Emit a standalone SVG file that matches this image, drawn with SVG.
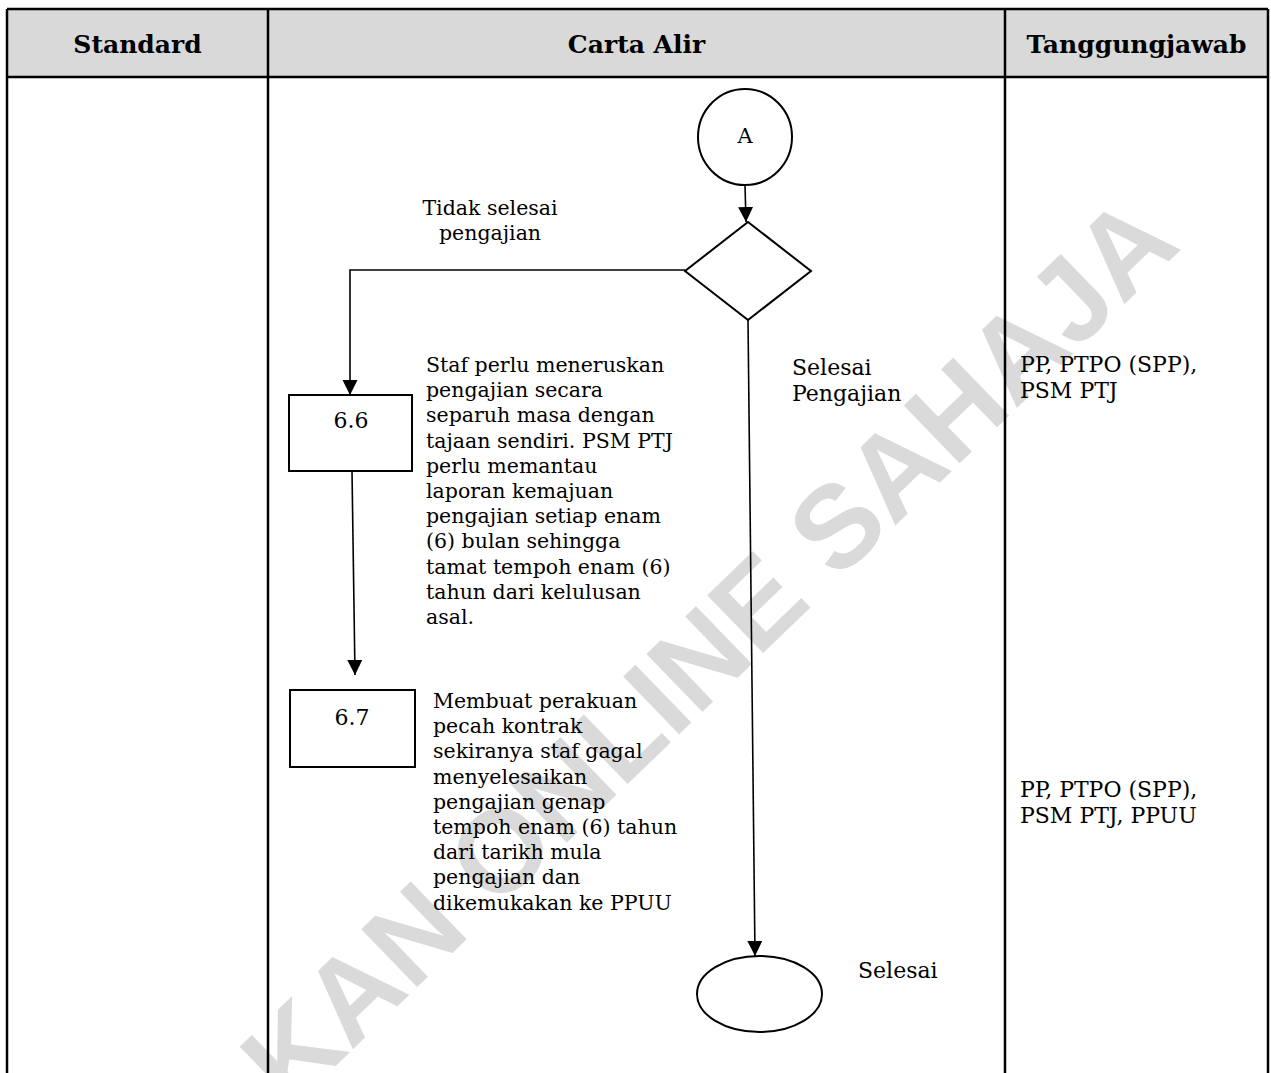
<svg xmlns="http://www.w3.org/2000/svg" width="1271" height="1073" viewBox="0 0 1271 1073">
  <defs>
    <marker id="arrow" markerUnits="userSpaceOnUse" markerWidth="16" markerHeight="16" refX="15" refY="7.5" orient="auto">
      <path d="M0,0 L15,7.5 L0,15 Z" fill="#000"/>
    </marker>
    <style>
      .tbl { stroke: #000; stroke-width: 2.5; fill: none; }
      .hdr { font-family: "DejaVu Serif", "Liberation Serif", serif; font-weight: bold; font-size: 25px; fill: #000; text-anchor: middle; }
      .shape { stroke: #000; stroke-width: 2; fill: #fff; }
      .conn { stroke: #000; stroke-width: 1.6; fill: none; }
      .t { font-family: "DejaVu Serif", "Liberation Serif", serif; font-size: 20.5px; fill: #000; }
      .t2 { font-family: "DejaVu Serif", "Liberation Serif", serif; font-size: 22px; fill: #000; }
      .num { font-family: "DejaVu Serif", "Liberation Serif", serif; font-size: 22px; fill: #000; text-anchor: middle; }
      .wm { font-family: "Liberation Sans", Arial, sans-serif; font-weight: bold; font-size: 117px; fill: #dadada; }
    </style>
  </defs>

  <rect x="0" y="0" width="1271" height="1073" fill="#fff"/>

  <!-- watermark -->
  <text class="wm" transform="translate(290,1110) rotate(-44)">KAN ONLINE SAHAJA</text>

  <!-- table -->
  <g id="table">
    <rect x="7" y="9" width="1261" height="68" fill="#d9d9d9"/>
    <line class="tbl" x1="7" y1="9" x2="1268" y2="9"/>
    <line class="tbl" x1="7" y1="77" x2="1268" y2="77"/>
    <line class="tbl" x1="7" y1="9" x2="7" y2="1073"/>
    <line class="tbl" x1="268" y1="9" x2="268" y2="1073"/>
    <line class="tbl" x1="1005" y1="9" x2="1005" y2="1073"/>
    <line class="tbl" x1="1268" y1="9" x2="1268" y2="1073"/>
    <text class="hdr" x="137.5" y="53">Standard</text>
    <text class="hdr" x="636.5" y="53">Carta Alir</text>
    <text class="hdr" x="1136.5" y="53">Tanggungjawab</text>
  </g>

  <!-- connectors -->
  <g id="connectors">
    <line class="conn" x1="745" y1="185" x2="746" y2="222" marker-end="url(#arrow)"/>
    <polyline class="conn" points="685,270 350,270 350,395" marker-end="url(#arrow)"/>
    <line class="conn" x1="352" y1="471" x2="355" y2="675" marker-end="url(#arrow)"/>
    <line class="conn" x1="748" y1="320" x2="755" y2="956" marker-end="url(#arrow)"/>
  </g>

  <g id="node-A">
    <ellipse class="shape" cx="745" cy="137" rx="47" ry="48"/>
    <text class="num" x="745" y="143" style="font-size:21px">A</text>
  </g>

  <g id="decision">
    <polygon class="shape" points="748,222 811,271 748,320 685,271"/>
  </g>

  <g id="label-tidak">
    <text class="t" x="490" y="215" text-anchor="middle">Tidak selesai</text>
    <text class="t" x="490" y="240" text-anchor="middle">pengajian</text>
  </g>

  <g id="label-selesai-pengajian">
    <text class="t2" x="792" y="375">Selesai</text>
    <text class="t2" x="792" y="401">Pengajian</text>
  </g>

  <g id="step-6-6">
    <rect class="shape" x="289" y="395" width="123" height="76"/>
    <text class="num" x="351" y="428">6.6</text>
  </g>

  <g id="desc-6-6">
    <text class="t" x="426" y="372">Staf perlu meneruskan</text>
    <text class="t" x="426" y="397.2">pengajian secara</text>
    <text class="t" x="426" y="422.4">separuh masa dengan</text>
    <text class="t" x="426" y="447.6">tajaan sendiri. PSM PTJ</text>
    <text class="t" x="426" y="472.8">perlu memantau</text>
    <text class="t" x="426" y="498">laporan kemajuan</text>
    <text class="t" x="426" y="523.2">pengajian setiap enam</text>
    <text class="t" x="426" y="548.4">(6) bulan sehingga</text>
    <text class="t" x="426" y="573.6">tamat tempoh enam (6)</text>
    <text class="t" x="426" y="598.8">tahun dari kelulusan</text>
    <text class="t" x="426" y="624">asal.</text>
  </g>

  <g id="step-6-7">
    <rect class="shape" x="290" y="690" width="125" height="77"/>
    <text class="num" x="352" y="725">6.7</text>
  </g>

  <g id="desc-6-7">
    <text class="t" x="433" y="708">Membuat perakuan</text>
    <text class="t" x="433" y="733.2">pecah kontrak</text>
    <text class="t" x="433" y="758.4">sekiranya staf gagal</text>
    <text class="t" x="433" y="783.6">menyelesaikan</text>
    <text class="t" x="433" y="808.8">pengajian genap</text>
    <text class="t" x="433" y="834">tempoh enam (6) tahun</text>
    <text class="t" x="433" y="859.2">dari tarikh mula</text>
    <text class="t" x="433" y="884.4">pengajian dan</text>
    <text class="t" x="433" y="909.6">dikemukakan ke PPUU</text>
  </g>

  <g id="end">
    <ellipse class="shape" cx="759.5" cy="994" rx="62.5" ry="38"/>
    <text class="t2" x="858" y="978">Selesai</text>
  </g>

  <g id="resp-1">
    <text class="t2" x="1020" y="372">PP, PTPO (SPP),</text>
    <text class="t2" x="1020" y="398">PSM PTJ</text>
  </g>

  <g id="resp-2">
    <text class="t2" x="1020" y="797">PP, PTPO (SPP),</text>
    <text class="t2" x="1020" y="823">PSM PTJ, PPUU</text>
  </g>
</svg>
